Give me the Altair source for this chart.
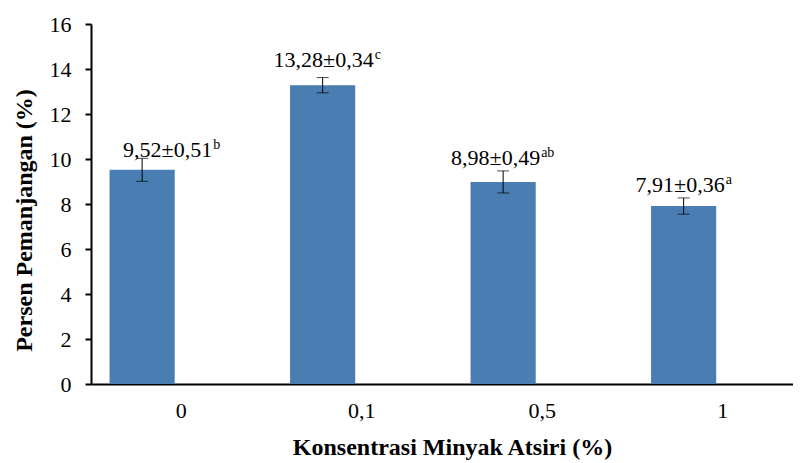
import altair as alt
import pandas as pd

categories = ["0", "0,1", "0,5", "1"]
means = [9.52, 13.28, 8.98, 7.91]
sds = [0.51, 0.34, 0.49, 0.36]
letters = ["b", "c", "ab", "a"]

def fmt(v):
    return f"{v:.2f}".replace(".", ",")

df = pd.DataFrame({
    "cat": categories,
    "mean": means,
    "sd": sds,
    "letter": letters,
})
df["lo"] = df["mean"] - df["sd"]
df["hi"] = df["mean"] + df["sd"]
df["label"] = [f"{fmt(m)}±{fmt(s)}" for m, s in zip(means, sds)]
df["series"] = "main"

FONT = "Liberation Serif"
BAR = "#4A7EB3"

# label anchor offsets (style only)
label_dx = {"0": 70, "0,1": 51, "0,5": 37, "1": 41}
label_dy = {"0": -13, "0,1": -18, "0,5": -17, "1": -14}

xscale = alt.Scale(domain=categories, range=[0, 722], paddingInner=0, paddingOuter=0)
offscale = alt.Scale(domain=["main", "blank"], paddingInner=0.167, paddingOuter=0.237)
yscale = alt.Scale(domain=[0, 16])

base = alt.Chart(df)

x_enc = alt.X("cat:N", scale=xscale, sort=categories,
              axis=alt.Axis(title="Konsentrasi Minyak Atsiri (%)", labelAngle=0, ticks=False,
                            domainColor="black", domainWidth=2, labelFontSize=22,
                            labelFont=FONT, titleFont=FONT,
                            labelColor="black", labelPadding=16, titleFontSize=24,
                            titleFontWeight="bold", titleColor="black", titlePadding=14))
xo = alt.XOffset("series:N", scale=offscale)

bars = base.mark_bar(color=BAR).encode(
    x=x_enc,
    xOffset=xo,
    y=alt.Y("mean:Q", scale=yscale,
            axis=alt.Axis(title="Persen Pemanjangan (%)", values=list(range(0, 17, 2)),
                          grid=False, domainColor="black", domainWidth=2, tickColor="black",
                          labelFont=FONT, titleFont=FONT,
                          tickWidth=2, tickSize=6, labelFontSize=22, labelColor="black",
                          labelPadding=14, titleFontSize=24, titleFontWeight="bold",
                          titleColor="black", titlePadding=13, titleY=196)),
)

rules = base.mark_rule(color="black", strokeWidth=1).encode(
    x=alt.X("cat:N", scale=xscale, sort=categories),
    xOffset=xo,
    y=alt.Y("lo:Q", scale=yscale),
    y2="hi:Q",
)
cap_lo = base.mark_tick(color="black", thickness=1, size=12, orient="horizontal").encode(
    x=alt.X("cat:N", scale=xscale, sort=categories), xOffset=xo, y=alt.Y("lo:Q", scale=yscale))
cap_hi = base.mark_tick(color="black", thickness=1, size=12, orient="horizontal").encode(
    x=alt.X("cat:N", scale=xscale, sort=categories), xOffset=xo, y=alt.Y("hi:Q", scale=yscale))

layers = [bars, rules, cap_lo, cap_hi]
for c in categories:
    sub = base.transform_filter(alt.datum.cat == c)
    main = sub.mark_text(font=FONT, fontSize=22, align="right", baseline="alphabetic",
                         dx=label_dx[c], dy=label_dy[c], color="black").encode(
        x=alt.X("cat:N", scale=xscale, sort=categories), xOffset=xo,
        y=alt.Y("mean:Q", scale=yscale), text="label:N")
    sup = sub.mark_text(font=FONT, fontSize=14, align="left", baseline="alphabetic",
                        dx=label_dx[c] + 1, dy=label_dy[c] - 8, color="black").encode(
        x=alt.X("cat:N", scale=xscale, sort=categories), xOffset=xo,
        y=alt.Y("mean:Q", scale=yscale), text="letter:N")
    layers += [main, sup]

chart = alt.layer(*layers).properties(
    width=702, height=360,
    autosize=alt.AutoSizeParams(type="none"),
    padding={"left": 83, "top": 16, "right": 0, "bottom": 79},
).configure(font=FONT).configure_view(stroke=None)

chart.save("out.html", embed_options={"renderer": "svg", "actions": False})
